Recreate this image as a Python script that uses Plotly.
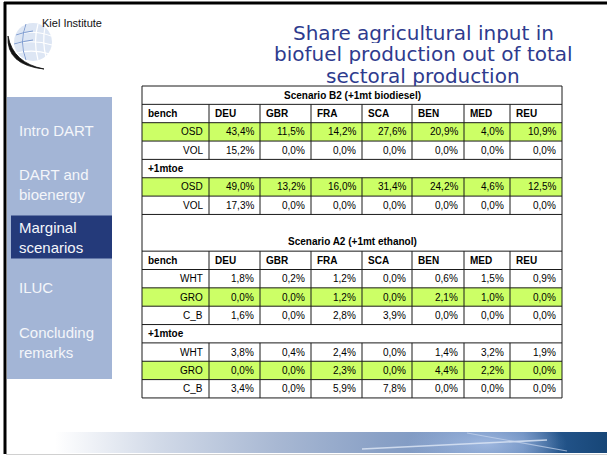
import base64
import plotly.graph_objects as go

# ---------------- data ----------------
title_lines = ["Share agricultural input in", "biofuel production out of total", "sectoral production"]
logo_text = "Kiel Institute"
menu_items = ["Intro DART", "DART and<br>bioenergy", "Marginal<br>scenarios", "ILUC", "Concluding<br>remarks"]
active_item = "Marginal<br>scenarios"

countries = ["DEU", "GBR", "FRA", "SCA", "BEN", "MED", "REU"]
b2_title = "Scenario B2 (+1mt biodiesel)"
a2_title = "Scenario A2 (+1mt ethanol)"
bench_label = "bench"
mtoe_label = "+1mtoe"

b2_bench_osd = [43.4, 11.5, 14.2, 27.6, 20.9, 4.0, 10.9]
b2_bench_vol = [15.2, 0.0, 0.0, 0.0, 0.0, 0.0, 0.0]
b2_mtoe_osd = [49.0, 13.2, 16.0, 31.4, 24.2, 4.6, 12.5]
b2_mtoe_vol = [17.3, 0.0, 0.0, 0.0, 0.0, 0.0, 0.0]

a2_bench_wht = [1.8, 0.2, 1.2, 0.0, 0.6, 1.5, 0.9]
a2_bench_gro = [0.0, 0.0, 1.2, 0.0, 2.1, 1.0, 0.0]
a2_bench_cb = [1.6, 0.0, 2.8, 3.9, 0.0, 0.0, 0.0]
a2_mtoe_wht = [3.8, 0.4, 2.4, 0.0, 1.4, 3.2, 1.9]
a2_mtoe_gro = [0.0, 0.0, 2.3, 0.0, 4.4, 2.2, 0.0]
a2_mtoe_cb = [3.4, 0.0, 5.9, 7.8, 0.0, 0.0, 0.0]

highlight_labels = ["OSD", "GRO"]

# ---------------- layout constants ----------------
W, H = 607, 456
X_EDGES = [142, 209, 260, 311, 362, 412, 464, 510, 562]
TOP = 86
RH = 18.35
GREEN = "#ccff66"
LINE = "#1a1a1a"
TFONT = "Liberation Sans, Arial, sans-serif"
TSIZE = 10

table_spec = [
    ("title", b2_title, 1),
    ("header", None, 1),
    ("data", ("OSD", b2_bench_osd), 1),
    ("data", ("VOL", b2_bench_vol), 1),
    ("sub", mtoe_label, 1),
    ("data", ("OSD", b2_mtoe_osd), 1),
    ("data", ("VOL", b2_mtoe_vol), 1),
    ("title", a2_title, 2),
    ("header", None, 1),
    ("data", ("WHT", a2_bench_wht), 1),
    ("data", ("GRO", a2_bench_gro), 1),
    ("data", ("C_B", a2_bench_cb), 1),
    ("sub", mtoe_label, 1),
    ("data", ("WHT", a2_mtoe_wht), 1),
    ("data", ("GRO", a2_mtoe_gro), 1),
    ("data", ("C_B", a2_mtoe_cb), 1),
]


def fmt(v):
    return f"{v:.1f}%".replace(".", ",")


shapes = []
annotations = []

# ---- slide frame ----
shapes.append(dict(type="line", x0=5, x1=5, y0=2, y1=454, line=dict(color="black", width=3), layer="above"))
shapes.append(dict(type="line", x0=4, x1=W, y0=3, y1=3, line=dict(color="black", width=3), layer="above"))
shapes.append(dict(type="line", x0=6, x1=W, y0=454.5, y1=454.5, line=dict(color="#d0d0d0", width=1)))

# ---- left menu ----
shapes.append(dict(type="rect", x0=7, x1=112, y0=97, y1=379, fillcolor="#a3b5d6", line=dict(width=0), layer="below"))
menu_y0, menu_step = 130, 52.5
for i, item in enumerate(menu_items):
    yc = menu_y0 + i * menu_step
    if "<br>" in item:
        yc += 2
    if item == active_item:
        shapes.append(dict(type="rect", x0=11, x1=112, y0=yc - 21.5, y1=yc + 21.5,
                           fillcolor="#243a7a", line=dict(width=0), layer="below"))
    annotations.append(dict(x=17, y=yc, text=item, showarrow=False, xanchor="left", yanchor="middle",
                            align="left", font=dict(family=TFONT, size=15, color="#f4f6fa")))

# ---- title ----
for i, t in enumerate(title_lines):
    annotations.append(dict(x=423, y=32.5 + i * 21.5, text=t, showarrow=False, xanchor="center", yanchor="middle",
                            height=20, valign="middle",
                            font=dict(family="DejaVu Sans, Verdana, sans-serif", size=20, color="#2e3b8e")))

# ---- logo (drawn with shapes) ----
shapes.append(dict(type="circle", x0=14, x1=52, y0=23, y1=61, fillcolor="#dde6f4", line=dict(width=0), layer="below"))
shapes.append(dict(type="path", path="M 33 23 A 19 19 0 0 1 33 61 Z", fillcolor="#9fb7de",
                   line=dict(width=0), layer="below"))
for p in ["M 16 35 Q 33 29 51 36", "M 14 44 Q 33 39 52 45", "M 17 53 Q 33 49 50 54",
          "M 26 24 Q 19 42 26 60", "M 38 24 Q 33 42 38 60", "M 45 27 Q 42 42 46 57"]:
    shapes.append(dict(type="path", path=p, line=dict(color="#ffffff", width=1.2), layer="below"))
for p in ["M 16 35 Q 24 32 33 31", "M 14 44 Q 24 41 33 40", "M 26 24 Q 19 42 26 60"]:
    shapes.append(dict(type="path", path=p, line=dict(color="#7d9bd0", width=1), layer="below"))
shapes.append(dict(type="path", path="M 8 36 Q 6 65 44 69 Q 13 63 8 36 Z", fillcolor="#111111",
                   line=dict(color="#111111", width=0.8)))
annotations.append(dict(x=40, y=23, text=logo_text, showarrow=False, xanchor="left", yanchor="middle",
                        font=dict(family=TFONT, size=11, color="#111111")))

# ---- bottom banner ----
banner_svg = '''<svg xmlns="http://www.w3.org/2000/svg" width="600" height="21" viewBox="0 0 600 21" preserveAspectRatio="none">
<defs><linearGradient id="g" x1="0" x2="1" y1="0" y2="0">
<stop offset="0.08" stop-color="#ffffff"/>
<stop offset="0.25" stop-color="#d2dae8"/>
<stop offset="0.45" stop-color="#a8b8d3"/>
<stop offset="0.62" stop-color="#8aa1c6"/>
<stop offset="0.75" stop-color="#7895c2"/>
<stop offset="0.86" stop-color="#5a80b5"/>
<stop offset="0.92" stop-color="#23548a"/>
<stop offset="1" stop-color="#174677"/>
</linearGradient>
<radialGradient id="r" cx="0.5" cy="0.5" r="0.5">
<stop offset="0" stop-color="#a9c0e6" stop-opacity="0.8"/><stop offset="1" stop-color="#a9c0e6" stop-opacity="0"/>
</radialGradient></defs>
<rect width="600" height="21" fill="url(#g)"/>
<ellipse cx="480" cy="12" rx="80" ry="30" fill="url(#r)"/>
<path d="M 355 17 L 540 8" stroke="#dfe8f6" stroke-width="1.6" opacity="0.8"/>
<path d="M 460 1 L 560 19" stroke="#c8d6ee" stroke-width="1.2" opacity="0.7"/>
</svg>'''


def uri(svg):
    return "data:image/svg+xml;base64," + base64.b64encode(svg.encode()).decode()


images = [
    dict(source=uri(banner_svg), xref="x", yref="y", x=7, y=432, sizex=600, sizey=21,
         xanchor="left", yanchor="top", sizing="stretch", layer="below"),
]

# ---- table ----
xl, xr = X_EDGES[0], X_EDGES[-1]
y = TOP
boundaries = [y]
for kind, content, span in table_spec:
    y0, y1 = y, y + RH * span
    yc = (y0 + y1) / 2
    if kind == "title":
        ty = y1 - RH / 2
        annotations.append(dict(x=(xl + xr) / 2, y=ty, text=f"<b>{content}</b>", showarrow=False,
                                xanchor="center", yanchor="middle", font=dict(family=TFONT, size=TSIZE, color="black")))
    elif kind == "sub":
        annotations.append(dict(x=xl + 4, y=yc, text=f"<b>{content}</b>", showarrow=False,
                                xanchor="left", yanchor="middle", font=dict(family=TFONT, size=TSIZE, color="black")))
    elif kind == "header":
        labels = [bench_label] + countries
        for j, lab in enumerate(labels):
            annotations.append(dict(x=X_EDGES[j] + 4, y=yc, text=f"<b>{lab}</b>", showarrow=False,
                                    xanchor="left", yanchor="middle", font=dict(family=TFONT, size=TSIZE, color="black")))
    else:
        label, vals = content
        if label in highlight_labels:
            shapes.append(dict(type="rect", x0=xl, x1=xr, y0=y0, y1=y1, fillcolor=GREEN,
                               line=dict(width=0), layer="below"))
        annotations.append(dict(x=X_EDGES[1] - 4, y=yc, text=label, showarrow=False,
                                xanchor="right", yanchor="middle", font=dict(family=TFONT, size=TSIZE, color="black")))
        for j, v in enumerate(vals):
            annotations.append(dict(x=X_EDGES[j + 2] - 4, y=yc, text=fmt(v), showarrow=False,
                                    xanchor="right", yanchor="middle", font=dict(family=TFONT, size=TSIZE, color="black")))
    if kind in ("header", "data"):
        for xe in X_EDGES[1:-1]:
            shapes.append(dict(type="line", x0=xe, x1=xe, y0=y0, y1=y1, line=dict(color=LINE, width=1)))
    y = y1
    boundaries.append(y)

for by in boundaries:
    shapes.append(dict(type="line", x0=xl, x1=xr, y0=by, y1=by, line=dict(color=LINE, width=1)))
for xe in (xl, xr):
    shapes.append(dict(type="line", x0=xe, x1=xe, y0=boundaries[0], y1=boundaries[-1], line=dict(color=LINE, width=1)))

fig = go.Figure()
fig.update_layout(
    width=W, height=H, margin=dict(l=0, r=0, t=0, b=0),
    paper_bgcolor="white", plot_bgcolor="white",
    xaxis=dict(range=[0, W], visible=False, fixedrange=True),
    yaxis=dict(range=[H, 0], visible=False, fixedrange=True),
    shapes=shapes, annotations=annotations, images=images, showlegend=False,
)
fig.write_html("out.html", config={"displayModeBar": False},
               post_script="document.body.style.margin='0px';document.body.style.overflow='hidden';")
